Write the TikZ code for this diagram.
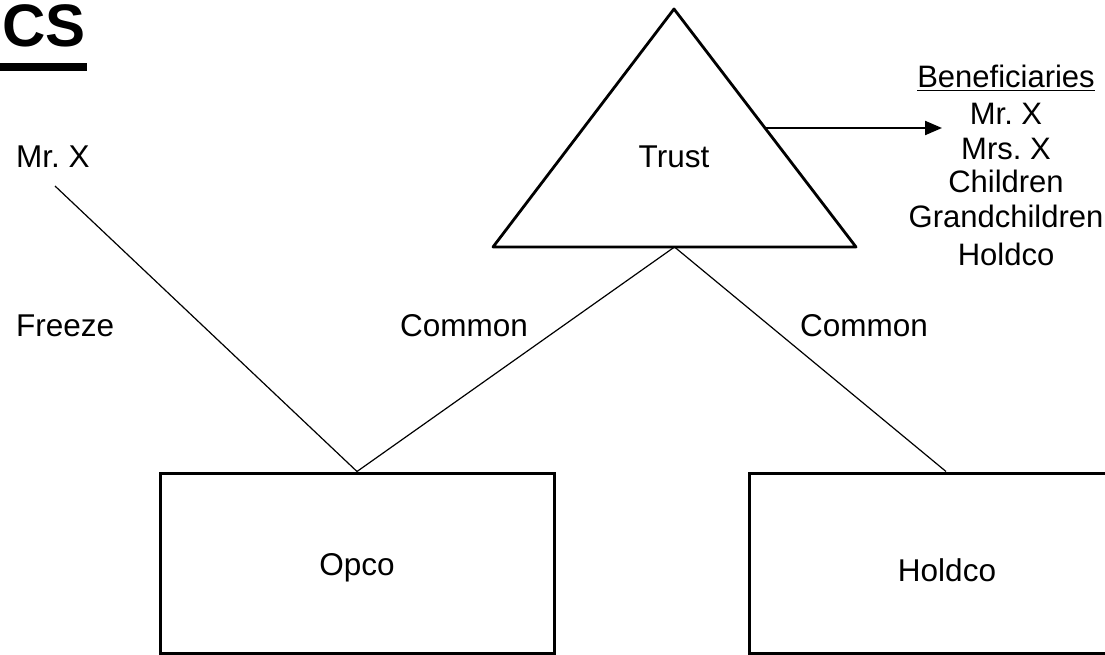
\documentclass[tikz,border=0pt]{standalone}
\usepackage{fontspec}
\setmainfont{Liberation Sans}
\usetikzlibrary{arrows.meta,calc}
\frenchspacing
\begin{document}
\begin{tikzpicture}[x=1pt,y=-1pt,
  txt/.style={font=\fontsize{31.5}{36}\selectfont, inner sep=0pt, anchor=base},
  lst/.style={font=\fontsize{31}{36}\selectfont, inner sep=0pt, anchor=base},
  box/.style={draw, line width=3pt, minimum width=394pt, minimum height=180pt, inner sep=0pt},
  conn/.style={line width=1.2pt},
  heavy/.style={line width=2.8pt}]
\useasboundingbox (0,0) rectangle (1105,655);
\clip (0,0) rectangle (1105,655);
% title fragment
\node[font=\fontsize{60}{64}\bfseries\selectfont, anchor=base east, inner sep=0pt] (title) at (86,47) {CS};
\draw[line width=8pt] (0,67.5) -- (87,67.5);
% trust triangle
\coordinate (apex) at (674,9);
\coordinate (bl) at (493,247);
\coordinate (br) at (856,247);
\draw[heavy, line join=round] (apex) -- (bl) -- (br) -- cycle;
\node[txt] (trust) at (674,168) {Trust};
\coordinate (trustbase) at ($(bl)!0.5!(br)$);
% arrow to beneficiaries
\coordinate (arrs) at ($(apex)!0.5!(br)$);
\coordinate (arre) at (942,128);
\draw[line width=2.2pt, -{Triangle[length=17pt,width=14pt]}] (arrs) -- (arre);
% beneficiaries
\node[lst] (ben) at (1006,88) {\underline{Beneficiaries}};
\node[lst] (b1) at (1006,125) {Mr. X};
\node[lst] (b2) at (1006,160) {Mrs. X};
\node[lst] (b3) at (1006,193) {Children};
\node[lst] (b4) at (1006,227) {Grandchildren};
\node[lst] (b5) at (1006,265) {Holdco};
% boxes
\node[box] (opco) at (357,563) {};
\node[box] (holdco) at (946,563) {};
\node[txt] (opcot) at (357,575) {Opco};
\node[txt] (holdcot) at (947,581) {Holdco};
% left labels
\node[txt, anchor=base west] (mrx) at (16,168) {Mr. X};
\node[txt, anchor=base west] (freeze) at (16,336) {Freeze};
\node[txt, anchor=base west] (com1) at (400,336) {Common};
\node[txt, anchor=base west] (com2) at (800,336) {Common};
% connectors
\coordinate (mrxend) at (55,186);
\draw[conn] (mrxend) -- (opco.north);
\draw[conn] (trustbase) -- (opco.north);
\draw[conn] (trustbase) -- (holdco.north);
\end{tikzpicture}
\end{document}
